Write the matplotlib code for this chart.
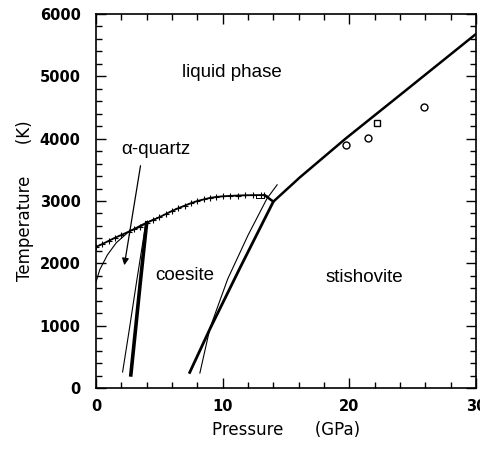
import matplotlib.pyplot as plt
from matplotlib.ticker import MultipleLocator

# phase boundaries of SiO2
melt_P = [0.0, 0.5, 1.0, 1.5, 2.0, 2.6, 3.0, 3.5, 4.0, 4.5, 5.0, 5.5, 6.0, 6.5,
          7.0, 7.5, 8.0, 8.5, 9.0, 9.5, 10.0, 10.6, 11.2, 11.8, 12.4, 13.0, 13.3]
melt_T = [2263, 2310, 2360, 2410, 2455, 2510, 2545, 2590, 2650, 2695, 2740, 2790,
          2840, 2885, 2925, 2965, 3000, 3025, 3050, 3065, 3075, 3082, 3088, 3092,
          3094, 3095, 3095]

stish_melt_P = [13.3, 14.0, 16.1, 19.7, 24.0, 30.0]
stish_melt_T = [3095, 2990, 3380, 4000, 4700, 5680]

quartz_melt_P = [0.0, 0.3, 0.9, 1.6, 2.6, 3.6, 4.6]
quartz_melt_T = [1700, 1900, 2135, 2330, 2510, 2620, 2710]

qc_thick_P = [2.75, 3.1, 3.5, 4.0]
qc_thick_T = [210, 900, 1700, 2650]
qc_thin_P = [2.1, 2.6, 3.2, 3.9]
qc_thin_T = [257, 900, 1700, 2600]

cs_thick_P = [7.4, 9.0, 11.4, 14.0]
cs_thick_T = [250, 950, 1940, 2990]
cs_thin_P = [8.2, 9.0, 10.4, 12.0, 13.5, 14.3]
cs_thin_T = [240, 963, 1750, 2450, 3040, 3260]

exp_P = [19.7, 21.5, 22.2, 25.9]
exp_T = [3900, 4010, 4250, 4510]
exp_mk = ["o", "o", "s", "o"]

fig = plt.figure(figsize=(4.81, 4.50), dpi=100)
ax = fig.add_axes([96 / 481, 1 - 388 / 450, 380 / 481, 374 / 450])

ax.plot(melt_P, melt_T, color="black", lw=1.3, marker="+", ms=4, mew=0.8)
ax.plot(stish_melt_P, stish_melt_T, color="black", lw=1.8)
ax.plot(quartz_melt_P, quartz_melt_T, color="black", lw=0.8)
ax.plot(qc_thick_P, qc_thick_T, color="black", lw=2.6)
ax.plot(qc_thin_P, qc_thin_T, color="black", lw=0.8)
ax.plot(cs_thick_P, cs_thick_T, color="black", lw=2.0)
ax.plot(cs_thin_P, cs_thin_T, color="black", lw=0.8)
ax.plot([12.6, 13.3, 13.3, 12.6, 12.6], [3050, 3050, 3100, 3100, 3050], color="black", lw=0.7)
for p, t, m in zip(exp_P, exp_T, exp_mk):
    ax.plot(p, t, marker=m, ms=5, mfc="white", mec="black", mew=1.0)

ax.annotate("", xy=(2.2, 1926), xytext=(3.55, 3610),
            arrowprops=dict(arrowstyle="-|>", color="black", lw=0.9, mutation_scale=10))

lab = dict(fontsize=13.5, family="Liberation Sans", ha="center", va="center")
ax.text(4.7, 3830, "\u03b1-quartz", **lab)
ax.text(10.7, 5060, "liquid phase", **lab)
ax.text(7.0, 1800, "coesite", **lab)
ax.text(21.2, 1780, "stishovite", **lab)

ax.set_xlim(0, 30)
ax.set_ylim(0, 6000)
ax.xaxis.set_major_locator(MultipleLocator(10))
ax.xaxis.set_minor_locator(MultipleLocator(2))
ax.yaxis.set_major_locator(MultipleLocator(1000))
ax.yaxis.set_minor_locator(MultipleLocator(200))
ax.tick_params(which="both", direction="in", top=True, right=True, width=1.0)
ax.tick_params(which="major", length=7, labelsize=10.5)
ax.tick_params(axis="y", which="major", pad=11)
ax.tick_params(axis="x", which="major", pad=8)
ax.tick_params(which="minor", length=4)
for lbl in ax.get_xticklabels() + ax.get_yticklabels():
    lbl.set_fontweight("bold")
for s in ax.spines.values():
    s.set_linewidth(1.2)

ax.set_xlabel("Pressure      (GPa)", fontsize=12, labelpad=5)
ax.set_ylabel("Temperature      (K)", fontsize=12, labelpad=4)

fig.savefig("out.png", dpi=100)
